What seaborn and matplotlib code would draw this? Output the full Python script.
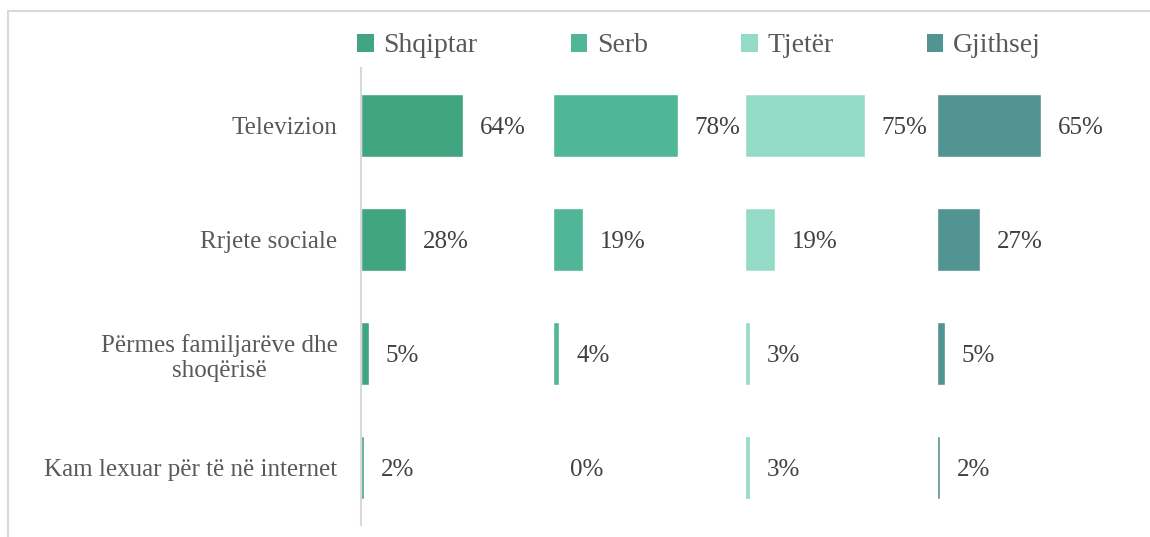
import matplotlib
matplotlib.use("Agg")
import matplotlib.pyplot as plt
from matplotlib.patches import Rectangle, Patch
import seaborn as sns
import pandas as pd

categories = ["Televizion", "Rrjete sociale", "Përmes familjarëve dhe\nshoqërisë",
              "Kam lexuar për të në internet"]
groups = ["Shqiptar", "Serb", "Tjetër", "Gjithsej"]
shqiptar = [64, 28, 5, 2]
serb = [78, 19, 4, 0]
tjeter = [75, 19, 3, 3]
gjithsej = [65, 27, 5, 2]
colors = ["#42A582", "#50B697", "#94DBC7", "#529492"]

# each group sits in its own lane, 120 units apart
lane = 120
offsets = [i * lane for i in range(len(groups))]

series = [shqiptar, serb, tjeter, gjithsej]
df = pd.DataFrame({
    "Kategoria": categories * len(groups),
    "Grupi": [g for g in groups for _ in categories],
    "Vlera": [v for s in series for v in s],
})

sns.set_style("white")
plt.rcParams["font.family"] = ["Liberation Serif", "DejaVu Serif"]

fig = plt.figure(figsize=(11.5, 5.37), dpi=100)
ax = fig.add_axes([361 / 1150, 12 / 537, (1145 - 361) / 1150, (525 - 68) / 537])

sns.barplot(data=df, y="Kategoria", x="Vlera", hue="Grupi", palette=colors,
            dodge=False, width=0.55, orient="h", ax=ax, legend=False,
            saturation=1, errorbar=None)

for cont, off, vals in zip(ax.containers, offsets, series):
    for bar, v in zip(cont, vals):
        bar.set_x(bar.get_x() + off)
        ax.annotate(f"{v}%", xy=(off + v, bar.get_y() + bar.get_height() / 2),
                    xytext=(12, 0), textcoords="offset points",
                    va="center_baseline", ha="left", fontsize=18, color="#404040")

ax.set_xlim(0, (1145 - 361) / 1.6)
ax.set_ylim(3.5, -0.5)
ax.set_xlabel("")
ax.set_ylabel("")
ax.set_xticks([])
for s in ["top", "right", "bottom"]:
    ax.spines[s].set_visible(False)
ax.spines["left"].set_color("#D9D9D9")
ax.spines["left"].set_linewidth(1.5)
ax.tick_params(axis="y", length=0, pad=17, labelsize=18, labelcolor="#595959")
for lbl in ax.get_yticklabels():
    lbl.set_multialignment("center")

handles = [Patch(facecolor=c, edgecolor="none") for c in colors]
fig.legend(handles, groups, loc="center left", bbox_to_anchor=(346 / 1150, 1 - 46 / 537),
           ncol=4, frameon=False, fontsize=20, labelcolor="#595959",
           handlelength=0.6, handleheight=0.6, handletextpad=0.35,
           columnspacing=3.35, borderaxespad=0)

fig.patches.append(Rectangle((8 / 1150, -0.1), 1.2, 1.1 - 11 / 537, transform=fig.transFigure,
                             fill=False, edgecolor="#D9D9D9", linewidth=1.5))

fig.savefig("out.png", dpi=100, facecolor="white")
